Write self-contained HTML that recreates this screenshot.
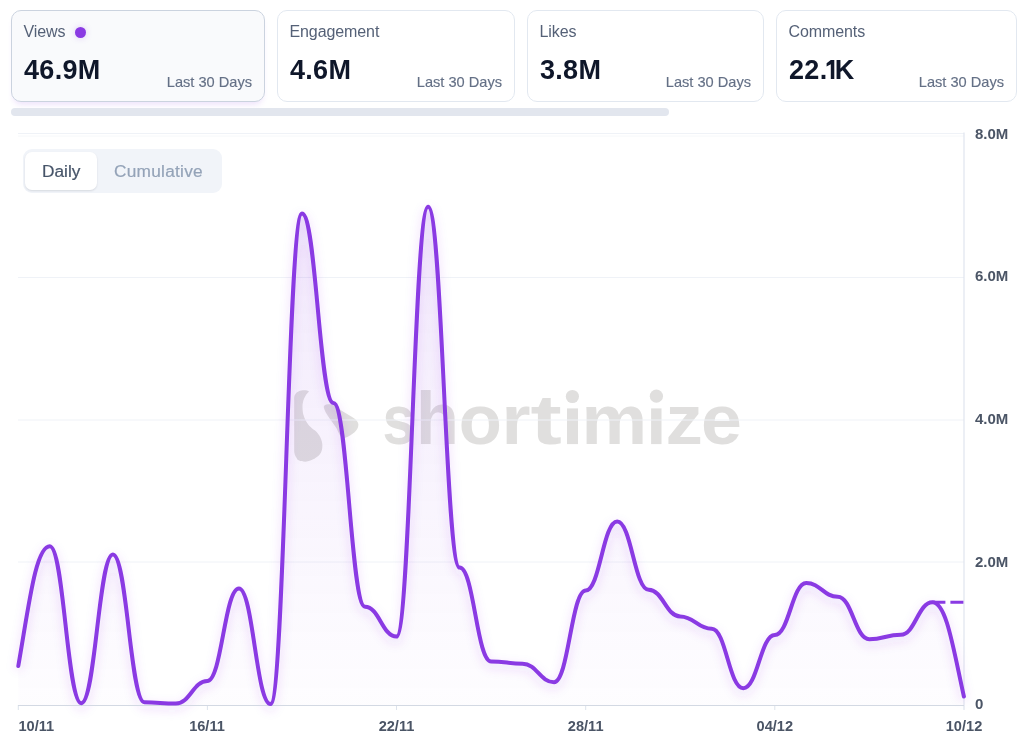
<!DOCTYPE html>
<html><head><meta charset="utf-8">
<style>
*{box-sizing:border-box;margin:0;padding:0}
html,body{width:1024px;height:745px;overflow:hidden;background:#fff;font-family:"Liberation Sans",sans-serif}
.card,.tg{will-change:transform}
.card{position:absolute;top:10px;height:92px;border:1px solid #e2e8f0;border-radius:10px;background:#fff}
.card.sel{border-color:#cbd3df;background:#f9fafc;box-shadow:0 5px 6px -3px rgba(139,58,230,0.16)}
.card .t{position:absolute;left:11.5px;top:12px;font-size:16px;color:#556177;line-height:18px;letter-spacing:-0.1px}
.card .v{position:absolute;left:12px;top:44px;font-size:27px;font-weight:bold;color:#0f172a;line-height:30px;letter-spacing:0.3px}
.card .l{position:absolute;right:12px;top:63px;font-size:14.6px;color:#647086;line-height:16px;-webkit-text-stroke:0.15px #647086}
.dot{display:inline-block;width:11px;height:11px;border-radius:50%;background:#8a3ae3;margin-left:10px;vertical-align:-1px;box-shadow:0 0 6px rgba(139,58,230,0.25)}
.sb{position:absolute;left:11px;top:108px;width:658px;height:8px;border-radius:4px;background:#e2e6ee}
.tg{position:absolute;left:23px;top:149px;width:199px;height:44px;border-radius:9px;background:#f1f4f9}
.tg .a{position:absolute;left:2px;top:3px;width:72px;height:38px;border-radius:7px;background:#fff;box-shadow:0 1px 2px rgba(15,23,42,0.12)}
.tg .a span{position:absolute;left:17px;top:9px;font-size:17.3px;color:#475569;line-height:20px;-webkit-text-stroke:0.2px #475569}
.tg .b{position:absolute;left:91px;top:12px;font-size:17.3px;letter-spacing:0.25px;color:#94a3b8;line-height:20px;-webkit-text-stroke:0.2px #94a3b8}
svg{position:absolute;left:0;top:0}
.ax{font-family:"Liberation Sans",sans-serif;font-weight:bold;font-size:15px;fill:#4b5566}
.xl{font-size:14.6px}
</style></head><body>
<div class="card sel" style="left:11px;width:254px"><div class="t">Views<span class="dot"></span></div><div class="v">46.9M</div><div class="l">Last 30 Days</div></div>
<div class="card" style="left:277px;width:238px"><div class="t">Engagement</div><div class="v">4.6M</div><div class="l">Last 30 Days</div></div>
<div class="card" style="left:527px;width:237px"><div class="t">Likes</div><div class="v">3.8M</div><div class="l">Last 30 Days</div></div>
<div class="card" style="left:776px;width:241px"><div class="t">Comments</div><div class="v">22<span style="letter-spacing:-1.5px">.</span><svg style="position:static;display:inline-block;vertical-align:0" width="9" height="19" viewBox="0 0 9 19"><path d="M4.8,0 L8.3,0 L8.3,19 L4.8,19 L4.8,4.2 L0.6,6.6 L0.6,3.3 Z" fill="#0f172a"/></svg>K</div><div class="l">Last 30 Days</div></div>
<div class="sb"></div>

<svg width="1024" height="745" viewBox="0 0 1024 745">
<defs>
<linearGradient id="gf" x1="0" y1="134" x2="0" y2="705.5" gradientUnits="userSpaceOnUse">
<stop offset="0" stop-color="#8a3ae3" stop-opacity="0.13"/>
<stop offset="1" stop-color="#8a3ae3" stop-opacity="0.01"/>
</linearGradient>
<filter id="glow" x="-10%" y="-10%" width="120%" height="120%">
<feGaussianBlur stdDeviation="5"/>
</filter>
</defs>
<!-- watermark -->
<g fill="#e0dfde">
<path d="M303,390.2 C305.5,390 308,390.5 309,391.4 C305,395 302.5,401 302.5,406.5 C302.5,412 303,417 308.4,424.8 C311,428 315.9,431.2 315.9,431.2 C319,434 322.4,440 322.4,445.2 C322.4,450 321,453 320.2,453.8 C318,457 313.8,459.1 313.8,459.1 C310,461 307,461.8 305.2,461.8 C300,461.8 297,460 296.6,458.1 C295,456 294.2,453 294.2,451.6 L294.2,398 C294.2,393.5 298,390.5 303,390.2Z"/>
<path d="M324,408.1 C323,405.5 326,404 329.9,404.3 C333,404.5 337,407 341.7,410.8 L352.5,417.2 C357,420 358.4,422.5 358.4,424.8 C358.4,428 356.5,430.5 354.6,432.3 C352,434.5 349,436.5 346,437.6 C344,438.5 342.8,438.2 342.8,438.2 C340,437 338,431 336.4,428 C333,423 331,420.5 328.8,417.2 C326.5,414 324.7,411 324,408.1Z"/>
<g font-size="69.5" font-weight="bold" style="font-family:'Liberation Sans',sans-serif"><text transform="matrix(0.8483 0 0 1.0000 382.59 0.00)" x="0" y="444">s</text><text transform="matrix(1.0102 0 0 1.0550 416.09 -24.42)" x="0" y="444">h</text><text transform="matrix(1.0153 0 0 1.0000 458.78 0.00)" x="0" y="444">o</text><text transform="matrix(1.0725 0 0 1.0000 501.50 0.00)" x="0" y="444">r</text><text transform="matrix(1.3523 0 0 1.0000 530.59 0.00)" x="0" y="444">t</text><rect x="567.0" y="408.4" width="11.0" height="35.7"/><text transform="matrix(1.0620 0 0 1.0000 581.45 0.00)" x="0" y="444">m</text><rect x="651.1" y="408.4" width="10.4" height="35.7"/><text transform="matrix(1.0750 0 0 1.0000 665.51 0.00)" x="0" y="444">z</text><text transform="matrix(1.0579 0 0 1.0000 701.06 0.00)" x="0" y="444">e</text></g>
<circle cx="572.4" cy="396.5" r="6.6"/><circle cx="656.4" cy="396.2" r="6.6"/>
</g>
<!-- grid -->
<g stroke="#eff2f7" stroke-width="1">
<line x1="18" y1="133.5" x2="964" y2="133.5"/>
<line x1="18" y1="277.5" x2="964" y2="277.5"/>
<line x1="18" y1="420" x2="964" y2="420"/>
<line x1="18" y1="562" x2="964" y2="562"/>
</g>
<line x1="18" y1="136" x2="964" y2="136" stroke="#f6f8fa" stroke-width="1"/>
<line x1="964" y1="132.5" x2="964" y2="710" stroke="#dfe4ee" stroke-width="1.2"/>
<g stroke="#dde3ec" stroke-width="1">
<line x1="18.3" y1="705" x2="18.3" y2="710"/>
<line x1="207.4" y1="705" x2="207.4" y2="710"/>
<line x1="396.5" y1="705" x2="396.5" y2="710"/>
<line x1="585.7" y1="705" x2="585.7" y2="710"/>
<line x1="774.8" y1="705" x2="774.8" y2="710"/>
</g>
<path d="M18.30,666.00C28.80,606.10,35.62,546.20,49.80,546.20C63.97,546.20,67.12,703.20,81.30,703.20C95.52,703.20,98.68,554.50,112.90,554.50C127.08,554.50,130.22,702.30,144.40,702.30C158.58,702.30,161.72,703.50,175.90,703.50C190.08,703.50,193.22,681.00,207.40,681.00C221.58,681.00,224.72,588.40,238.90,588.40C253.12,588.40,256.28,704.00,270.50,704.00C284.68,704.00,287.82,213.50,302.00,213.50C316.18,213.50,319.32,403.00,333.50,403.00C347.68,403.00,350.82,606.70,365.00,606.70C379.18,606.70,382.32,636.60,396.50,636.60C410.72,636.60,413.88,206.80,428.10,206.80C442.28,206.80,445.43,567.60,459.60,567.60C473.78,567.60,476.93,661.50,491.10,661.50C505.28,661.50,508.43,663.70,522.60,663.70C536.77,663.70,539.93,682.20,554.10,682.20C568.32,682.20,571.48,590.50,585.70,590.50C599.88,590.50,603.03,521.50,617.20,521.50C631.38,521.50,634.53,589.80,648.70,589.80C662.88,589.80,666.03,616.40,680.20,616.40C694.38,616.40,697.53,628.70,711.70,628.70C725.92,628.70,729.08,688.30,743.30,688.30C757.47,688.30,760.62,635.00,774.80,635.00C788.97,635.00,792.12,583.00,806.30,583.00C820.47,583.00,823.62,596.80,837.80,596.80C851.97,596.80,855.12,639.30,869.30,639.30C883.47,639.30,886.62,634.80,900.80,634.80C915.02,634.80,918.18,602.30,932.40,602.30C946.57,602.30,953.40,649.40,963.90,696.50L963.90,705.50L18.30,705.50Z" fill="url(#gf)"/>
<path d="M18.30,666.00C28.80,606.10,35.62,546.20,49.80,546.20C63.97,546.20,67.12,703.20,81.30,703.20C95.52,703.20,98.68,554.50,112.90,554.50C127.08,554.50,130.22,702.30,144.40,702.30C158.58,702.30,161.72,703.50,175.90,703.50C190.08,703.50,193.22,681.00,207.40,681.00C221.58,681.00,224.72,588.40,238.90,588.40C253.12,588.40,256.28,704.00,270.50,704.00C284.68,704.00,287.82,213.50,302.00,213.50C316.18,213.50,319.32,403.00,333.50,403.00C347.68,403.00,350.82,606.70,365.00,606.70C379.18,606.70,382.32,636.60,396.50,636.60C410.72,636.60,413.88,206.80,428.10,206.80C442.28,206.80,445.43,567.60,459.60,567.60C473.78,567.60,476.93,661.50,491.10,661.50C505.28,661.50,508.43,663.70,522.60,663.70C536.77,663.70,539.93,682.20,554.10,682.20C568.32,682.20,571.48,590.50,585.70,590.50C599.88,590.50,603.03,521.50,617.20,521.50C631.38,521.50,634.53,589.80,648.70,589.80C662.88,589.80,666.03,616.40,680.20,616.40C694.38,616.40,697.53,628.70,711.70,628.70C725.92,628.70,729.08,688.30,743.30,688.30C757.47,688.30,760.62,635.00,774.80,635.00C788.97,635.00,792.12,583.00,806.30,583.00C820.47,583.00,823.62,596.80,837.80,596.80C851.97,596.80,855.12,639.30,869.30,639.30C883.47,639.30,886.62,634.80,900.80,634.80C915.02,634.80,918.18,602.30,932.40,602.30C946.57,602.30,953.40,649.40,963.90,696.50" fill="none" stroke="#8a3ae3" stroke-opacity="0.10" stroke-width="8" filter="url(#glow)" transform="translate(0,4)"/>
<line x1="18" y1="705.5" x2="964" y2="705.5" stroke="#d3d9e3" stroke-width="1"/>
<path d="M18.30,666.00C28.80,606.10,35.62,546.20,49.80,546.20C63.97,546.20,67.12,703.20,81.30,703.20C95.52,703.20,98.68,554.50,112.90,554.50C127.08,554.50,130.22,702.30,144.40,702.30C158.58,702.30,161.72,703.50,175.90,703.50C190.08,703.50,193.22,681.00,207.40,681.00C221.58,681.00,224.72,588.40,238.90,588.40C253.12,588.40,256.28,704.00,270.50,704.00C284.68,704.00,287.82,213.50,302.00,213.50C316.18,213.50,319.32,403.00,333.50,403.00C347.68,403.00,350.82,606.70,365.00,606.70C379.18,606.70,382.32,636.60,396.50,636.60C410.72,636.60,413.88,206.80,428.10,206.80C442.28,206.80,445.43,567.60,459.60,567.60C473.78,567.60,476.93,661.50,491.10,661.50C505.28,661.50,508.43,663.70,522.60,663.70C536.77,663.70,539.93,682.20,554.10,682.20C568.32,682.20,571.48,590.50,585.70,590.50C599.88,590.50,603.03,521.50,617.20,521.50C631.38,521.50,634.53,589.80,648.70,589.80C662.88,589.80,666.03,616.40,680.20,616.40C694.38,616.40,697.53,628.70,711.70,628.70C725.92,628.70,729.08,688.30,743.30,688.30C757.47,688.30,760.62,635.00,774.80,635.00C788.97,635.00,792.12,583.00,806.30,583.00C820.47,583.00,823.62,596.80,837.80,596.80C851.97,596.80,855.12,639.30,869.30,639.30C883.47,639.30,886.62,634.80,900.80,634.80C915.02,634.80,918.18,602.30,932.40,602.30C946.57,602.30,953.40,649.40,963.90,696.50" fill="none" stroke="#8a3ae3" stroke-width="4" stroke-linecap="round" stroke-linejoin="round"/>
<line x1="932.4" y1="602.3" x2="963.9" y2="602.3" stroke="#8a3ae3" stroke-width="3" stroke-dasharray="13 5"/>
<!-- labels -->
<g class="ax">
<text x="975" y="138.5">8.0M</text>
<text x="975" y="281">6.0M</text>
<text x="975" y="423.5">4.0M</text>
<text x="975" y="566.5">2.0M</text>
<text x="975" y="708.5">0</text>
<text x="18.5" y="731" class="xl">10/11</text>
<text x="207" y="731" text-anchor="middle" class="xl">16/11</text>
<text x="396.5" y="731" text-anchor="middle" class="xl">22/11</text>
<text x="585.7" y="731" text-anchor="middle" class="xl">28/11</text>
<text x="774.8" y="731" text-anchor="middle" class="xl">04/12</text>
<text x="964" y="731" text-anchor="middle" class="xl">10/12</text>
</g>
</svg>
<div class="tg"><div class="a"><span>Daily</span></div><div class="b">Cumulative</div></div>
</body></html>
